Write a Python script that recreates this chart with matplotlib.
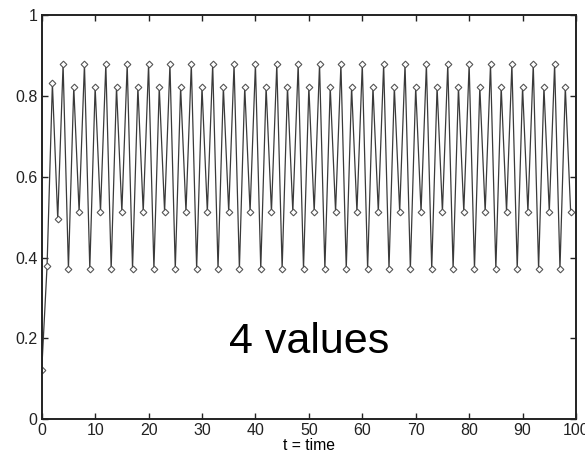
import numpy as np
import matplotlib.pyplot as plt

# logistic map iterates, settling onto a period-4 cycle
x_values = [
    0.121, 0.379, 0.831, 0.495,
    0.878, 0.372, 0.822, 0.513,
    0.878, 0.372, 0.822, 0.513,
    0.878, 0.372, 0.822, 0.513,
    0.878, 0.372, 0.822, 0.513,
    0.878, 0.372, 0.822, 0.513,
    0.878, 0.372, 0.822, 0.513,
    0.878, 0.372, 0.822, 0.513,
    0.878, 0.372, 0.822, 0.513,
    0.878, 0.372, 0.822, 0.513,
    0.878, 0.372, 0.822, 0.513,
    0.878, 0.372, 0.822, 0.513,
    0.878, 0.372, 0.822, 0.513,
    0.878, 0.372, 0.822, 0.513,
    0.878, 0.372, 0.822, 0.513,
    0.878, 0.372, 0.822, 0.513,
    0.878, 0.372, 0.822, 0.513,
    0.878, 0.372, 0.822, 0.513,
    0.878, 0.372, 0.822, 0.513,
    0.878, 0.372, 0.822, 0.513,
    0.878, 0.372, 0.822, 0.513,
    0.878, 0.372, 0.822, 0.513,
    0.878, 0.372, 0.822, 0.513,
    0.878, 0.372, 0.822, 0.513,
    0.878, 0.372, 0.822, 0.513,
]
t = np.arange(len(x_values))

x_ticks = [0, 10, 20, 30, 40, 50, 60, 70, 80, 90, 100]
y_ticks = [0, 0.2, 0.4, 0.6, 0.8, 1]
y_tick_labels = ["0", "0.2", "0.4", "0.6", "0.8", "1"]

plt.rcParams['font.family'] = ['Liberation Sans', 'DejaVu Sans']

fig = plt.figure(figsize=(5.85, 4.53), dpi=100)
ax = fig.add_axes([0.0713, 0.0744, 0.9133, 0.8925])

ax.plot(t, x_values, color="#3a3a3a", linewidth=0.9,
        marker="D", markersize=3.4, markerfacecolor="white",
        markeredgecolor="#555555", markeredgewidth=0.8)

ax.set_xlim(0, 100)
ax.set_ylim(0, 1)
ax.set_xticks(x_ticks)
ax.set_yticks(y_ticks)
ax.set_yticklabels(y_tick_labels)
ax.tick_params(direction="in", top=True, right=True, length=4,
               width=1, labelsize=11.5, pad=3, colors="#222222")
for side in ax.spines.values():
    side.set_linewidth(1.4)
    side.set_color("#222222")

ax.set_xlabel("t = time", fontsize=11.3, labelpad=-0.5)
ax.text(0.5, 0.165, "4 values", transform=ax.transAxes, fontsize=31,
        ha="center", va="baseline")

fig.savefig("out.png", dpi=100)
